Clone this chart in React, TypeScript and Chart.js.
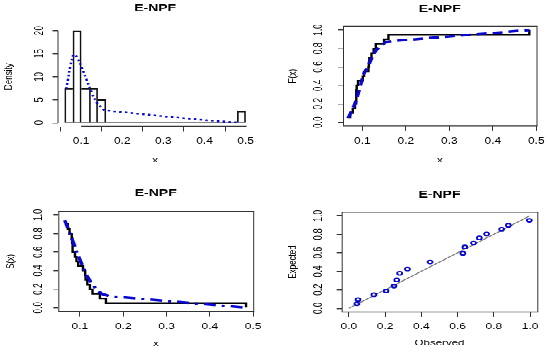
import React, { useEffect, useRef } from 'react';
import { Chart, registerables } from 'chart.js';

Chart.register(...registerables);

const FONT = "'Liberation Sans', Arial, Helvetica, sans-serif";
const W = 275;
const H = 252;
const SY = 353 / 504;
const BLUE = '#0808d0';

// ---------- Panel 1: histogram + fitted density ----------
const histBreaks = [0.06, 0.08, 0.10, 0.12, 0.14, 0.16, 0.18, 0.20, 0.22, 0.24, 0.26, 0.28, 0.30, 0.32, 0.34, 0.36, 0.38, 0.40, 0.42, 0.44, 0.46, 0.48, 0.50];
const histDensity = [7.5, 20, 7.5, 7.5, 5, 0, 0, 0, 0, 0, 0, 0, 0, 0, 0, 0, 0, 0, 0, 0, 0, 2.5];
const densityX = [0.0635, 0.067, 0.0715, 0.0757, 0.081, 0.087, 0.096, 0.104, 0.112, 0.120, 0.128, 0.1365, 0.149, 0.157, 0.177, 0.238, 0.319, 0.400, 0.440, 0.473, 0.482];
const densityY = [7.4, 8.9, 11.4, 13.2, 14.8, 14.6, 13.2, 11.4, 9.6, 7.8, 6.0, 4.5, 3.3, 2.7, 2.5, 1.96, 1.25, 0.55, 0.28, 0.07, 0.05];
const p1XTicks = [0.1, 0.2, 0.3, 0.4, 0.5];
const p1XLabels = ['0.1', '0.2', '0.3', '0.4', '0.5'];
const p1YTicks = [0, 5, 10, 15, 20];
const p1YLabels = ['0', '5', '10', '15', '20'];

// ---------- Panel 2: empirical vs fitted CDF ----------
const ecdfX = [0.066, 0.072, 0.078, 0.083, 0.086, 0.086, 0.086, 0.087, 0.090, 0.101, 0.104, 0.114, 0.115, 0.116, 0.121, 0.126, 0.131, 0.150, 0.160, 0.484];
const ecdfY = [0.05, 0.10, 0.15, 0.20, 0.25, 0.30, 0.35, 0.40, 0.45, 0.50, 0.55, 0.60, 0.65, 0.70, 0.75, 0.80, 0.85, 0.90, 0.95, 1.00];
const cdfFitX = [0.067, 0.072, 0.078, 0.082, 0.087, 0.0916, 0.097, 0.1015, 0.107, 0.113, 0.120, 0.1246, 0.130, 0.136, 0.145, 0.1516, 0.160, 0.167, 0.484];
const cdfFitY = [0.045, 0.09, 0.15, 0.19, 0.26, 0.33, 0.42, 0.51, 0.56, 0.60, 0.68, 0.73, 0.77, 0.80, 0.84, 0.86, 0.875, 0.88, 1.0];

// ---------- Panel 3: empirical vs fitted survival ----------
const survX = [0.066, 0.072, 0.076, 0.081, 0.082, 0.083, 0.083, 0.0885, 0.092, 0.096, 0.107, 0.112, 0.113, 0.117, 0.123, 0.129, 0.146, 0.160, 0.4835];
const survY = [0.90, 0.85, 0.80, 0.75, 0.70, 0.65, 0.60, 0.55, 0.50, 0.45, 0.40, 0.35, 0.30, 0.25, 0.20, 0.15, 0.10, 0.05, 0.0];
const survFitX = [0.0646, 0.072, 0.080, 0.0877, 0.0915, 0.099, 0.109, 0.117, 0.126, 0.1376, 0.150, 0.167, 0.4835];
const survFitY = [0.945, 0.86, 0.76, 0.67, 0.61, 0.53, 0.42, 0.34, 0.27, 0.20, 0.15, 0.125, 0.0];
const xTicks05 = [0.1, 0.2, 0.3, 0.4, 0.5];
const xLabels05 = ['0.1', '0.2', '0.3', '0.4', '0.5'];
const unitTicks = [0, 0.2, 0.4, 0.6, 0.8, 1.0];
const unitLabels = ['0.0', '0.2', '0.4', '0.6', '0.8', '1.0'];

// ---------- Panel 4: P-P plot ----------
const ppObserved = [0.044, 0.05, 0.138, 0.205, 0.249, 0.264, 0.28, 0.323, 0.448, 0.629, 0.64, 0.688, 0.72, 0.76, 0.843, 0.88, 0.996];
const ppExpected = [0.048, 0.093, 0.146, 0.187, 0.241, 0.306, 0.378, 0.424, 0.5, 0.594, 0.662, 0.705, 0.76, 0.804, 0.853, 0.896, 0.95];
const refLineX = [0, 1];
const refLineY = [0, 1];

type Geo = {
  left: number; right: number; top: number; bottom: number;
  titleY: number; xTickY: number; xLabelY: number; yTickX: number; yLabelX: number;
};

const TICK_SIZE = 12;
const TICK_LH = TICK_SIZE * 1.2;
const LAB_SIZE = 11.5;
const LAB_LH = LAB_SIZE * 1.2;
const TEXT = '#000';

function measureWidest(labels: string[]): number {
  const c = document.createElement('canvas').getContext('2d')!;
  c.font = `${TICK_SIZE}px ${FONT}`;
  return Math.max(...labels.map((l) => c.measureText(l).width));
}

const rFrame = {
  id: 'rFrame',
  afterDraw(chart: any, _args: any, opts: any) {
    const { ctx, chartArea: a, scales } = chart;
    ctx.save();
    ctx.strokeStyle = '#333';
    if (opts.box) {
      ctx.lineWidth = 1.4;
      ctx.beginPath();
      ctx.moveTo(a.left, a.top); ctx.lineTo(a.right + 1, a.top);
      ctx.moveTo(a.left, a.bottom); ctx.lineTo(a.right + 1, a.bottom);
      ctx.stroke();
      ctx.lineWidth = 1;
      ctx.beginPath();
      ctx.moveTo(a.left + 0.5, a.top); ctx.lineTo(a.left + 0.5, a.bottom);
      ctx.moveTo(a.right + 0.5, a.top); ctx.lineTo(a.right + 0.5, a.bottom);
      ctx.stroke();
    }
    if (opts.axes) {
      const xs = scales.x;
      const ys = scales.y;
      const xt = opts.xTicks as number[];
      const yt = opts.yTicks as number[];
      ctx.lineWidth = 1.4;
      ctx.beginPath();
      ctx.moveTo(xs.getPixelForValue(xt[0]), a.bottom);
      ctx.lineTo(xs.getPixelForValue(xt[xt.length - 1]) + 1, a.bottom);
      ctx.stroke();
      ctx.lineWidth = 1;
      ctx.beginPath();
      ctx.moveTo(a.left + 0.5, ys.getPixelForValue(yt[0]));
      ctx.lineTo(a.left + 0.5, ys.getPixelForValue(yt[yt.length - 1]));
      ctx.stroke();
    }
    ctx.restore();
  },
};

type AxisSpec = {
  xMin: number; xMax: number; yMin: number; yMax: number;
  xTicks: number[]; xLabels: string[]; yTicks: number[]; yLabels: string[];
  xTitle: string; yTitle: string; box: boolean;
};

function buildOptions(g: Geo, s: AxisSpec): any {
  const tickFont = { family: FONT, size: TICK_SIZE, lineHeight: 1.2 };
  const labFont = { family: FONT, size: LAB_SIZE, lineHeight: 1.2 };
  const widest = measureWidest(s.yLabels);
  const yTL = 5;
  const xTL = 7;
  return {
    responsive: false,
    animation: false,
    devicePixelRatio: 1,
    events: [],
    layout: { padding: { left: 0, right: W - g.right, top: 0, bottom: 0 } },
    plugins: {
      legend: { display: false },
      tooltip: { enabled: false },
      title: {
        display: true,
        text: 'E-NPF',
        fullSize: false,
        color: '#000',
        font: { family: FONT, size: 14, weight: 'bold', lineHeight: 1.2 },
        padding: { top: g.titleY - 8.4, bottom: g.top - (g.titleY - 8.4) - 16.8 },
      },
      rFrame: { box: s.box, axes: !s.box, xTicks: s.xTicks, yTicks: s.yTicks },
    },
    scales: {
      x: {
        type: 'linear',
        position: 'bottom',
        min: s.xMin,
        max: s.xMax,
        bounds: 'data',
        offset: false,
        afterBuildTicks: (sc: any) => { sc.ticks = s.xTicks.map((v) => ({ value: v })); },
        afterFit: (sc: any) => {
          sc.height = H - g.bottom;
          sc.paddingLeft = 0; sc.paddingRight = 0; sc.paddingTop = 0; sc.paddingBottom = 0;
        },
        ticks: {
          autoSkip: false,
          minRotation: 0,
          maxRotation: 0,
          padding: g.xTickY - TICK_LH / 2 - g.bottom - xTL,
          font: tickFont,
          color: TEXT,
          callback: (_v: any, i: number) => s.xLabels[i],
        },
        grid: { drawOnChartArea: false, drawTicks: true, tickLength: xTL, color: '#333', lineWidth: 1 },
        border: { display: false },
        title: {
          display: true,
          text: s.xTitle,
          color: TEXT,
          font: labFont,
          padding: { top: 0, bottom: H - g.xLabelY - LAB_LH / 2 },
        },
      },
      y: {
        type: 'linear',
        position: 'left',
        min: s.yMin,
        max: s.yMax,
        bounds: 'data',
        afterBuildTicks: (sc: any) => { sc.ticks = s.yTicks.map((v) => ({ value: v })); },
        afterFit: (sc: any) => {
          sc.width = g.left;
          sc.paddingLeft = 0; sc.paddingRight = 0; sc.paddingTop = 0; sc.paddingBottom = 0;
        },
        ticks: {
          autoSkip: false,
          minRotation: 90,
          maxRotation: 90,
          crossAlign: 'center',
          align: 'center',
          padding: g.left - yTL - g.yTickX - widest / 2,
          font: tickFont,
          color: TEXT,
          callback: (_v: any, i: number) => s.yLabels[i],
        },
        grid: { drawOnChartArea: false, drawTicks: true, tickLength: yTL, color: '#333', lineWidth: 1.4 },
        border: { display: false },
        title: {
          display: true,
          text: s.yTitle,
          color: TEXT,
          font: labFont,
          padding: { top: g.yLabelX - LAB_LH / 2, bottom: 0 },
        },
      },
    },
  };
}

const zip = (xs: number[], ys: number[]) => xs.map((x, i) => ({ x, y: ys[i] }));

function barBorder(c: any) {
  const i = c.dataIndex;
  const cur = histDensity[i];
  const prev = i > 0 ? histDensity[i - 1] : 0;
  const next = i < histDensity.length - 1 ? histDensity[i + 1] : 0;
  return { top: 1.4, bottom: 0, left: cur >= prev ? 1 : 0, right: cur > next ? 1 : 0 };
}

function config1(): any {
  const g: Geo = { left: 57.5, right: 252.8, top: 38.5, bottom: 180.5, titleY: 12.6, xTickY: 201.3, xLabelY: 228.4, yTickX: 40, yLabelX: 9.2 };
  const centers = histDensity.map((d, i) => ({ x: (histBreaks[i] + histBreaks[i + 1]) / 2, y: d }));
  return {
    type: 'line',
    data: {
      datasets: [
        {
          type: 'line',
          data: zip(densityX, densityY),
          borderColor: BLUE,
          borderWidth: 2.5,
          borderDash: [2.5, 3.3],
          pointRadius: 0,
          fill: false,
          tension: 0,
        },
        {
          type: 'bar',
          data: centers,
          backgroundColor: 'rgba(0,0,0,0)',
          borderColor: '#111',
          borderWidth: barBorder,
          borderSkipped: false,
          barPercentage: 1,
          categoryPercentage: 1,
        },
        {
          type: 'line',
          data: [
            { x: histBreaks[0], y: 0 },
            { x: histBreaks[histBreaks.length - 1], y: 0 },
          ],
          borderColor: '#111',
          borderWidth: 1.4,
          pointRadius: 0,
          fill: false,
        },
      ],
    },
    options: buildOptions(g, {
      xMin: 0.0424, xMax: 0.5176, yMin: -0.8, yMax: 20.8,
      xTicks: p1XTicks, xLabels: p1XLabels, yTicks: p1YTicks, yLabels: p1YLabels,
      xTitle: 'x', yTitle: 'Density', box: false,
    }),
    plugins: [rFrame],
  };
}

function config2(): any {
  const g: Geo = { left: 68, right: 261.5, top: 37.55, bottom: 179.9, titleY: 13.1, xTickY: 201.8, xLabelY: 228.9, yTickX: 43.3, yLabelX: 18 };
  return {
    type: 'line',
    data: {
      datasets: [
        {
          data: zip(cdfFitX, cdfFitY),
          borderColor: BLUE,
          borderWidth: 3.5,
          borderDash: [10, 6],
          pointRadius: 0,
          fill: false,
        },
        {
          data: zip(ecdfX, ecdfY),
          borderColor: '#000',
          borderWidth: 2.4,
          stepped: true,
          pointRadius: 0,
          fill: false,
        },
      ],
    },
    options: buildOptions(g, {
      xMin: 0.0555, xMax: 0.5005, yMin: -0.04, yMax: 1.04,
      xTicks: xTicks05, xLabels: xLabels05, yTicks: unitTicks, yLabels: unitLabels,
      xTitle: 'x', yTitle: 'F(x)', box: true,
    }),
    plugins: [rFrame],
  };
}

function config3(): any {
  const g: Geo = { left: 58.3, right: 253.2, top: 49.7, bottom: 192.6, titleY: 24.3, xTickY: 214.6, xLabelY: 239, yTickX: 38.3, yLabelX: 11.3 };
  return {
    type: 'line',
    data: {
      datasets: [
        {
          data: zip(survFitX, survFitY),
          borderColor: BLUE,
          borderWidth: 3.5,
          borderDash: [12, 6, 3, 6],
          pointRadius: 0,
          fill: false,
        },
        {
          data: zip(survX, survY),
          borderColor: '#000',
          borderWidth: 2.4,
          stepped: true,
          pointRadius: 0,
          fill: false,
        },
      ],
    },
    options: buildOptions(g, {
      xMin: 0.05, xMax: 0.5, yMin: -0.04, yMax: 1.04,
      xTicks: xTicks05, xLabels: xLabels05, yTicks: unitTicks, yLabels: unitLabels,
      xTitle: 'x', yTitle: 'S(x)', box: true,
    }),
    plugins: [rFrame],
  };
}

function config4(): any {
  const g: Geo = { left: 66.7, right: 262.3, top: 50.7, bottom: 193.5, titleY: 26.2, xTickY: 214.6, xLabelY: 238, yTickX: 43.7, yLabelX: 18 };
  return {
    type: 'line',
    data: {
      datasets: [
        {
          data: zip(ppObserved, ppExpected),
          showLine: false,
          pointRadius: 2.4,
          pointBorderWidth: 1.9,
          pointBorderColor: BLUE,
          pointBackgroundColor: 'rgba(0,0,0,0)',
        },
        {
          data: zip(refLineX, refLineY),
          borderColor: '#7a7a7a',
          borderWidth: 1.4,
          pointRadius: 0,
          fill: false,
        },
      ],
    },
    options: buildOptions(g, {
      xMin: -0.04, xMax: 1.04, yMin: -0.04, yMax: 1.04,
      xTicks: unitTicks, xLabels: unitLabels, yTicks: unitTicks, yLabels: unitLabels,
      xTitle: 'Observed', yTitle: 'Expected', box: true,
    }),
    plugins: [rFrame],
  };
}

function Panel({ build, x, y }: { build: () => any; x: number; y: number }) {
  const ref = useRef<HTMLCanvasElement>(null);
  useEffect(() => {
    const chart = new Chart(ref.current as HTMLCanvasElement, build());
    return () => chart.destroy();
  }, []);
  return (
    <canvas
      ref={ref}
      width={W}
      height={H}
      style={{ position: 'absolute', left: x, top: y, width: W, height: H }}
    />
  );
}

export default function App() {
  useEffect(() => {
    document.body.style.margin = '0';
    document.body.style.background = '#fff';
    document.body.style.overflow = 'hidden';
  }, []);
  return (
    <div
      style={{
        position: 'absolute',
        left: 0,
        top: 0,
        width: 550,
        height: 504,
        background: '#fff',
        transform: `scaleY(${SY})`,
        transformOrigin: '0 0',
      }}
    >
      <Panel build={config1} x={0} y={0} />
      <Panel build={config2} x={275} y={0} />
      <Panel build={config3} x={0} y={252} />
      <Panel build={config4} x={275} y={252} />
    </div>
  );
}
